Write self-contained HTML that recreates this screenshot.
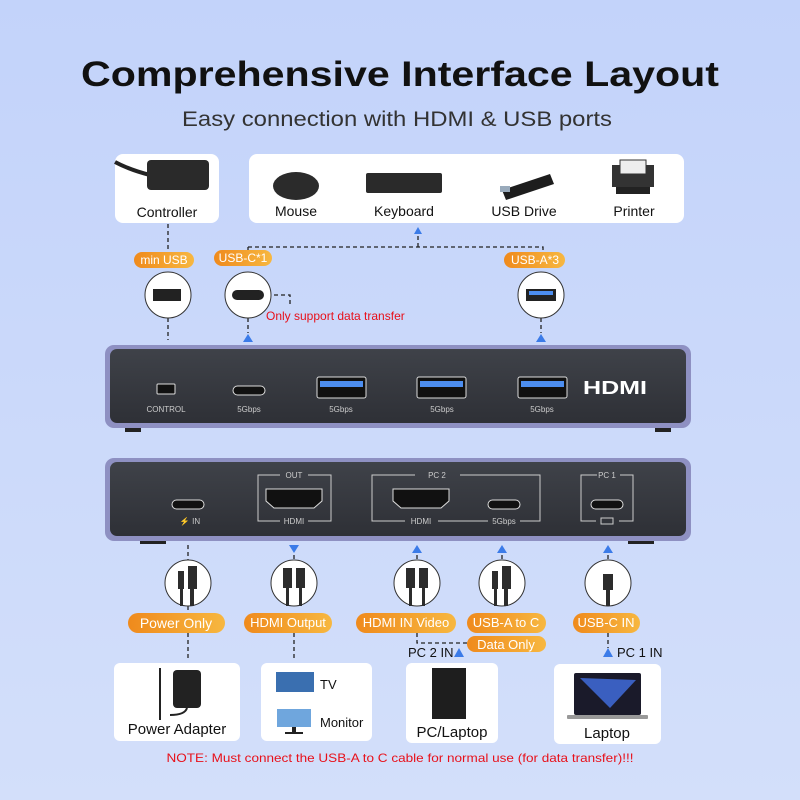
<!DOCTYPE html>
<html><head><meta charset="utf-8"><style>
html,body{margin:0;padding:0;width:800px;height:800px;overflow:hidden}
svg{display:block;font-family:"Liberation Sans",sans-serif}
</style></head><body>
<svg width="800" height="800" viewBox="0 0 800 800" xmlns="http://www.w3.org/2000/svg">
<defs>
<linearGradient id="bg" x1="0" y1="0" x2="0" y2="1"><stop offset="0" stop-color="#c3d3fa"/><stop offset="1" stop-color="#d3dffa"/></linearGradient>
<linearGradient id="pill" x1="0" y1="0" x2="1" y2="0"><stop offset="0" stop-color="#ef8a1c"/><stop offset="1" stop-color="#f7b740"/></linearGradient>
<linearGradient id="dev" x1="0" y1="0" x2="0" y2="1"><stop offset="0" stop-color="#3f4249"/><stop offset="1" stop-color="#2e3036"/></linearGradient>
<marker id="a" markerWidth="8" markerHeight="8" refX="4" refY="4" orient="auto"><path d="M0,0 L8,4 L0,8z" fill="#3b7be8"/></marker>
</defs>
<rect width="800" height="800" fill="url(#bg)"/>
<text x="400" y="86" text-anchor="middle" font-size="35" font-weight="bold" fill="#111" textLength="638" lengthAdjust="spacingAndGlyphs">Comprehensive Interface Layout</text>
<text x="397" y="126" text-anchor="middle" font-size="21" fill="#333" textLength="430" lengthAdjust="spacingAndGlyphs">Easy connection with HDMI &amp; USB ports</text>

<!-- top boxes -->
<rect x="115" y="154" width="104" height="69" rx="8" fill="#fff"/>
<path d="M115,162 Q130,170 150,175" stroke="#222" stroke-width="4" fill="none"/>
<rect x="147" y="160" width="62" height="30" rx="4" fill="#2a2a2a"/>
<text x="167" y="217" text-anchor="middle" font-size="14" fill="#111">Controller</text>
<rect x="249" y="154" width="435" height="69" rx="8" fill="#fff"/>
<ellipse cx="296" cy="186" rx="23" ry="14" fill="#2b2b2b"/>
<rect x="366" y="173" width="76" height="20" rx="2" fill="#2a2a2a"/>
<path d="M502,190 l48,-16 l4,10 l-48,16z" fill="#1d1d1d"/><rect x="500" y="186" width="10" height="6" fill="#9ab"/>
<rect x="612" y="165" width="42" height="22" fill="#333"/><rect x="620" y="160" width="26" height="14" fill="#eee" stroke="#333"/><rect x="616" y="187" width="34" height="7" fill="#222"/>
<text x="296" y="216" text-anchor="middle" font-size="14" fill="#111">Mouse</text>
<text x="404" y="216" text-anchor="middle" font-size="14" fill="#111">Keyboard</text>
<text x="524" y="216" text-anchor="middle" font-size="14" fill="#111">USB Drive</text>
<text x="634" y="216" text-anchor="middle" font-size="14" fill="#111">Printer</text>

<g stroke="#222" stroke-width="1.3" stroke-dasharray="4,3" fill="none">
<path d="M418,247 V234"/><path d="M248,247 H543 V252"/><path d="M248,247 V250"/>
<path d="M168,224 V252"/><path d="M168,318 V340"/>
<path d="M248,318 V333"/><path d="M541,318 V333"/>
<path d="M274,295 H290 V305"/>
<path d="M188,545 V572"/><path d="M188,606 V612"/><path d="M188,633 V660"/>
<path d="M294,555 V562"/><path d="M294,633 V660"/>
<path d="M417,555 V562"/><path d="M417,633 V643 H467"/>
<path d="M502,555 V562"/><path d="M502,652 V636"/>
<path d="M608,555 V562"/><path d="M608,633 V648"/>
</g>
<g fill="#3b7be8">
<path d="M414,234 L422,234 L418,227z"/>
<path d="M243,342 L253,342 L248,334z"/><path d="M536,342 L546,342 L541,334z"/>
<path d="M289,545 L299,545 L294,553z"/>
<path d="M412,553 L422,553 L417,545z"/><path d="M497,553 L507,553 L502,545z"/><path d="M603,553 L613,553 L608,545z"/>
<path d="M454,657 L464,657 L459,648z"/><path d="M603,657 L613,657 L608,648z"/>
</g>

<!-- pills top -->
<g font-size="12" fill="#fff" text-anchor="middle">
<rect x="134" y="252" width="60" height="16" rx="8" fill="url(#pill)"/><text x="164" y="264" fill="#fff">min USB</text>
<rect x="214" y="250" width="58" height="16" rx="8" fill="url(#pill)"/><text x="243" y="262" fill="#fff">USB-C*1</text>
<rect x="504" y="252" width="61" height="16" rx="8" fill="url(#pill)"/><text x="535" y="264" fill="#fff">USB-A*3</text>
</g>
<g fill="#fff" stroke="#333" stroke-width="1">
<circle cx="168" cy="295" r="23"/><circle cx="248" cy="295" r="23"/><circle cx="541" cy="295" r="23"/>
</g>
<rect x="153" y="289" width="28" height="12" fill="#222"/>
<rect x="232" y="290" width="32" height="10" rx="5" fill="#222"/>
<rect x="526" y="289" width="30" height="12" fill="#222"/><rect x="529" y="291" width="24" height="4" fill="#4d8ef0"/>
<text x="266" y="320" font-size="12" fill="#e8101a">Only support data transfer</text>

<!-- top device -->
<rect x="105" y="345" width="586" height="83" rx="9" fill="#8e90c2"/>
<rect x="110" y="349" width="576" height="74" rx="7" fill="url(#dev)"/>
<rect x="125" y="428" width="16" height="4" fill="#222"/><rect x="655" y="428" width="16" height="4" fill="#222"/>
<rect x="157" y="384" width="18" height="10" rx="1" fill="#111" stroke="#ddd"/>
<rect x="233" y="386" width="32" height="9" rx="4.5" fill="#111" stroke="#ddd"/>
<g fill="#111" stroke="#ddd"><rect x="317" y="377" width="49" height="21" rx="2"/><rect x="417" y="377" width="49" height="21" rx="2"/><rect x="518" y="377" width="49" height="21" rx="2"/></g>
<g fill="#4d8ef0"><rect x="320" y="381" width="43" height="6"/><rect x="420" y="381" width="43" height="6"/><rect x="521" y="381" width="43" height="6"/></g>
<text x="615" y="394" text-anchor="middle" font-size="18" font-weight="bold" fill="#fff" textLength="64" lengthAdjust="spacingAndGlyphs">HDMI</text>
<g font-size="8" fill="#ccc" text-anchor="middle">
<text x="166" y="412">CONTROL</text><text x="249" y="412">5Gbps</text><text x="341" y="412">5Gbps</text><text x="442" y="412">5Gbps</text><text x="542" y="412">5Gbps</text>
</g>

<!-- bottom device -->
<rect x="105" y="458" width="586" height="83" rx="9" fill="#8e90c2"/>
<rect x="110" y="462" width="576" height="74" rx="7" fill="url(#dev)"/>
<rect x="140" y="541" width="26" height="3" fill="#222"/><rect x="628" y="541" width="26" height="3" fill="#222"/>
<g fill="none" stroke="#ccc" stroke-width="1">
<path d="M280,475 H258 V521 H280 M308,521 H331 V475 H308"/>
<path d="M415,475 H372 V521 H405 M438,521 H488 M520,521 H540 V475 H460"/>
<path d="M597,475 H581 V521 H596 M619,521 H633 V475 H620"/>
</g>
<g font-size="8" fill="#ccc" text-anchor="middle">
<text x="294" y="478">OUT</text><text x="294" y="524">HDMI</text>
<text x="437" y="478">PC 2</text><text x="421" y="524">HDMI</text><text x="504" y="524">5Gbps</text>
<text x="607" y="478">PC 1</text><text x="190" y="524">⚡ IN</text>
</g>
<rect x="601" y="518" width="12" height="6" fill="none" stroke="#ccc"/>
<g fill="#111" stroke="#ddd"><rect x="172" y="500" width="32" height="9" rx="4.5"/><rect x="488" y="500" width="32" height="9" rx="4.5"/><rect x="591" y="500" width="32" height="9" rx="4.5"/>
<path d="M266,489 H322 V501 L314,508 H274 L266,501z"/><path d="M393,489 H449 V501 L441,508 H401 L393,501z"/></g>

<!-- cable circles -->
<g fill="#fff" stroke="#333"><circle cx="188" cy="583" r="23"/><circle cx="294" cy="583" r="23"/><circle cx="417" cy="583" r="23"/><circle cx="502" cy="583" r="23"/><circle cx="608" cy="583" r="23"/></g>
<g fill="#2c2c2c">
<rect x="178" y="571" width="6" height="18"/><rect x="188" y="566" width="9" height="23"/><rect x="180" y="589" width="3" height="17"/><rect x="190" y="589" width="4" height="17"/>
<rect x="283" y="568" width="9" height="20"/><rect x="296" y="568" width="9" height="20"/><rect x="286" y="588" width="3" height="18"/><rect x="299" y="588" width="3" height="18"/>
<rect x="406" y="568" width="9" height="20"/><rect x="419" y="568" width="9" height="20"/><rect x="409" y="588" width="3" height="18"/><rect x="422" y="588" width="3" height="18"/>
<rect x="492" y="571" width="6" height="18"/><rect x="502" y="566" width="9" height="23"/><rect x="494" y="589" width="3" height="17"/><rect x="504" y="589" width="4" height="17"/>
<rect x="603" y="574" width="10" height="16"/><rect x="606" y="590" width="4" height="16"/>
</g>

<!-- pills bottom -->
<g font-size="13" text-anchor="middle">
<rect x="128" y="613" width="97" height="20" rx="10" fill="url(#pill)"/><text x="176" y="628" fill="#fff" font-size="14">Power Only</text>
<rect x="244" y="613" width="88" height="20" rx="10" fill="url(#pill)"/><text x="288" y="627" fill="#fff">HDMI Output</text>
<rect x="356" y="613" width="100" height="20" rx="10" fill="url(#pill)"/><text x="406" y="627" fill="#fff">HDMI IN Video</text>
<rect x="467" y="613" width="79" height="20" rx="10" fill="url(#pill)"/><text x="506" y="627" fill="#fff">USB-A to C</text>
<rect x="573" y="613" width="67" height="20" rx="10" fill="url(#pill)"/><text x="606" y="627" fill="#fff">USB-C IN</text>
<rect x="467" y="636" width="79" height="16" rx="8" fill="url(#pill)"/><text x="506" y="649" fill="#fff">Data Only</text>
</g>
<text x="408" y="657" font-size="13" fill="#111">PC 2 IN</text>
<text x="617" y="657" font-size="13" fill="#111">PC 1 IN</text>

<!-- bottom boxes -->
<rect x="114" y="663" width="126" height="78" rx="6" fill="#fff"/>
<rect x="173" y="670" width="28" height="38" rx="4" fill="#222"/><path d="M160,668 V705 M187,708 Q185,715 170,715 M160,705 V720" stroke="#222" stroke-width="2" fill="none"/>
<text x="177" y="734" text-anchor="middle" font-size="15" fill="#111">Power Adapter</text>
<rect x="261" y="663" width="111" height="78" rx="6" fill="#fff"/>
<rect x="276" y="672" width="38" height="20" fill="#3a6fb0"/><rect x="277" y="709" width="34" height="18" fill="#6fa6dd"/><rect x="292" y="727" width="4" height="5" fill="#222"/><rect x="285" y="732" width="18" height="2" fill="#222"/>
<text x="320" y="689" font-size="13" fill="#111">TV</text>
<text x="320" y="727" font-size="13" fill="#111">Monitor</text>
<rect x="406" y="663" width="92" height="80" rx="6" fill="#fff"/>
<rect x="432" y="668" width="34" height="51" fill="#1e1e1e"/>
<text x="452" y="737" text-anchor="middle" font-size="15" fill="#111">PC/Laptop</text>
<rect x="554" y="664" width="107" height="80" rx="6" fill="#fff"/>
<rect x="574" y="673" width="67" height="42" rx="2" fill="#1a1a2a"/><path d="M580,678 L610,708 L636,680z" fill="#3a5fc0"/><rect x="567" y="715" width="81" height="4" rx="1" fill="#999"/>
<text x="607" y="738" text-anchor="middle" font-size="15" fill="#111">Laptop</text>

<text x="400" y="762" text-anchor="middle" font-size="12" fill="#e8101a" textLength="467" lengthAdjust="spacingAndGlyphs">NOTE: Must connect the USB-A to C cable for normal use (for data transfer)!!!</text>
</svg>
</body></html>
